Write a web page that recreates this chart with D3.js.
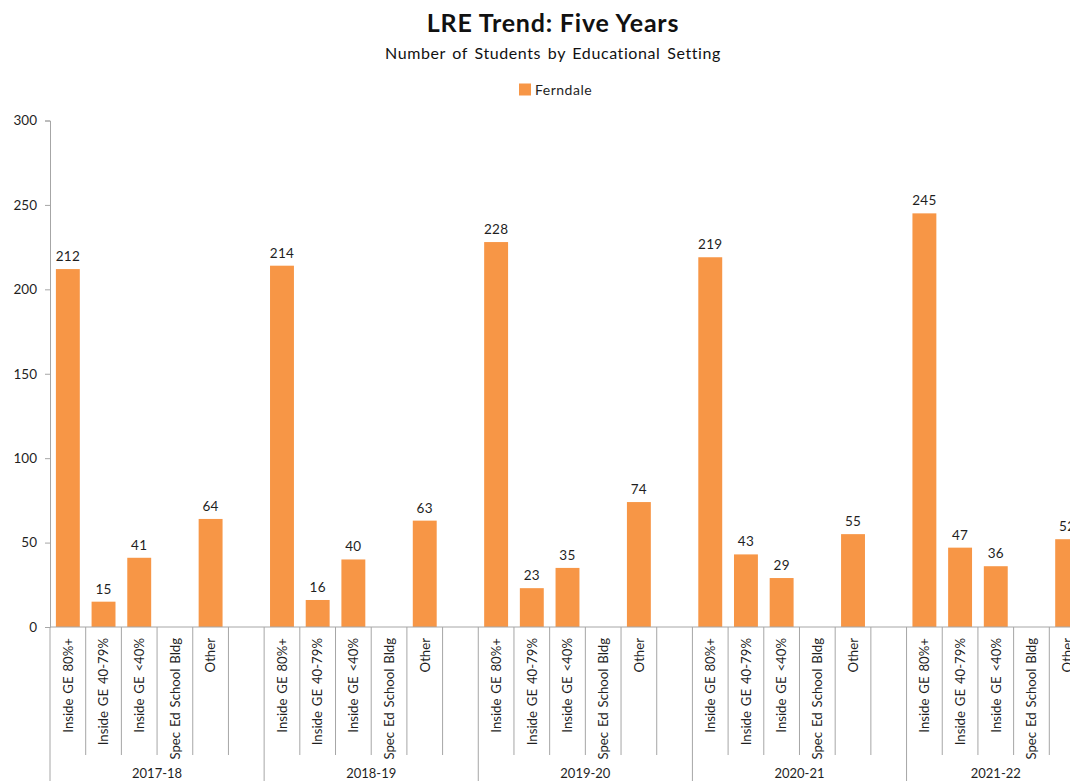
<!DOCTYPE html>
<html>
<head>
<meta charset="utf-8">
<script src="https://cdn.jsdelivr.net/npm/d3@7"></script>
<style>
  html, body { margin: 0; padding: 0; background: #fff; overflow: hidden; }
  svg { display: block; font-family: Lato, "Noto Sans", sans-serif; }
</style>
</head>
<body>
<svg id="chart" width="1070" height="781"></svg>
<script>
// School years shown along the outer axis
const years = ["2017-18", "2018-19", "2019-20", "2020-21", "2021-22"];
// Educational settings within each year
const settings = ["Inside GE 80%+", "Inside GE 40-79%", "Inside GE <40%", "Spec Ed School Bldg", "Other"];
// Ferndale student counts per year, in settings order (null = no value)
const ferndale2017 = [212, 15, 41, null, 64];
const ferndale2018 = [214, 16, 40, null, 63];
const ferndale2019 = [228, 23, 35, null, 74];
const ferndale2020 = [219, 43, 29, null, 55];
const ferndale2021 = [245, 47, 36, null, 52];
const ferndale = [ferndale2017, ferndale2018, ferndale2019, ferndale2020, ferndale2021];
// Y-axis ticks
const yTicks = [0, 50, 100, 150, 200, 250, 300];

const seriesName = "Ferndale";
const barColor = "#F79646";
const axisColor = "#a6a6a6";
const textColor = "#1f1f1f";

const svg = d3.select("#chart");

// Build category slots: each year gets its settings plus a blank spacer (except the last year)
const slots = [];
years.forEach((yr, yi) => {
  settings.forEach((s, si) => {
    slots.push({ id: yr + "|" + s, year: yr, setting: s, value: ferndale[yi][si] });
  });
  if (yi < years.length - 1) slots.push({ id: yr + "|", year: yr, setting: "", value: null });
});

const plot = { left: 50, right: 1085, top: 120.5, bottom: 627 };

const x = d3.scaleBand()
  .domain(slots.map(d => d.id))
  .range([plot.left, plot.right])
  .padding(0);

const y = d3.scaleLinear()
  .domain([0, 300])
  .range([plot.bottom, plot.top]);

// Title, subtitle, legend
svg.append("text")
  .attr("x", 553).attr("y", 32)
  .attr("text-anchor", "middle")
  .attr("font-size", 25).attr("font-weight", 700)
  .attr("letter-spacing", 0.8)
  .attr("fill", "#111")
  .text("LRE Trend: Five Years");

svg.append("text")
  .attr("x", 553).attr("y", 59)
  .attr("text-anchor", "middle")
  .attr("font-size", 16)
  .attr("letter-spacing", 0.6)
  .attr("word-spacing", 2)
  .attr("fill", "#111")
  .text("Number of Students by Educational Setting");

const legend = svg.append("g").attr("transform", "translate(519,83.5)");
legend.append("rect").attr("width", 12).attr("height", 12).attr("fill", barColor);
legend.append("text").attr("x", 16).attr("y", 11.5)
  .attr("font-size", 14).attr("letter-spacing", 0.5)
  .attr("fill", textColor).text(seriesName);

// Y axis
const yAxis = d3.axisLeft(y).tickValues(yTicks).tickSize(5).tickPadding(8);
const gy = svg.append("g").attr("transform", `translate(${plot.left},0)`).call(yAxis);
gy.select(".domain").attr("stroke", axisColor);
gy.selectAll(".tick line").attr("stroke", axisColor);
gy.selectAll(".tick text").attr("font-size", 13.5).attr("fill", textColor)
  .attr("font-family", "Lato, 'Noto Sans', sans-serif");

// Bars
const barW = x.bandwidth() * 0.67;
const withValues = slots.filter(d => d.value != null);

svg.append("g").selectAll("rect")
  .data(withValues)
  .join("rect")
  .attr("x", d => x(d.id) + (x.bandwidth() - barW) / 2)
  .attr("y", d => y(d.value))
  .attr("width", barW)
  .attr("height", d => y(0) - y(d.value))
  .attr("fill", barColor);

// Value labels
svg.append("g").selectAll("text")
  .data(withValues)
  .join("text")
  .attr("x", d => x(d.id) + x.bandwidth() / 2)
  .attr("y", d => y(d.value) - 8)
  .attr("text-anchor", "middle")
  .attr("font-size", 13.5)
  .attr("letter-spacing", 0.3)
  .attr("fill", textColor)
  .text(d => d.value);

// Category axis baseline
svg.append("line")
  .attr("x1", plot.left).attr("x2", plot.right)
  .attr("y1", y(0)).attr("y2", y(0))
  .attr("stroke", axisColor);

// Inner category separators and rotated labels
const innerBottom = 755;
const outerBottom = 781;
const gx = svg.append("g");

slots.forEach((d, i) => {
  const x0 = x(d.id);
  const isGroupStart = i === 0 || slots[i - 1].year !== d.year;
  gx.append("line")
    .attr("x1", x0).attr("x2", x0)
    .attr("y1", y(0)).attr("y2", isGroupStart ? outerBottom : innerBottom)
    .attr("stroke", axisColor);
  if (d.setting) {
    const cx = x0 + x.bandwidth() / 2;
    gx.append("text")
      .attr("transform", `translate(${cx + 4.8},${y(0) + 11}) rotate(-90)`)
      .attr("text-anchor", "end")
      .attr("font-size", 13.2)
      .attr("word-spacing", 1.5)
      .attr("fill", textColor)
      .text(d.setting);
  }
});
// closing separator at the right edge
gx.append("line")
  .attr("x1", plot.right).attr("x2", plot.right)
  .attr("y1", y(0)).attr("y2", outerBottom)
  .attr("stroke", axisColor);

// Year labels centred under each group
years.forEach(yr => {
  const ids = slots.filter(d => d.year === yr);
  const a = x(ids[0].id);
  const b = x(ids[ids.length - 1].id) + x.bandwidth();
  gx.append("text")
    .attr("x", (a + b) / 2)
    .attr("y", 778)
    .attr("text-anchor", "middle")
    .attr("font-size", 13)
    .attr("fill", textColor)
    .text(yr);
});
</script>
</body>
</html>
